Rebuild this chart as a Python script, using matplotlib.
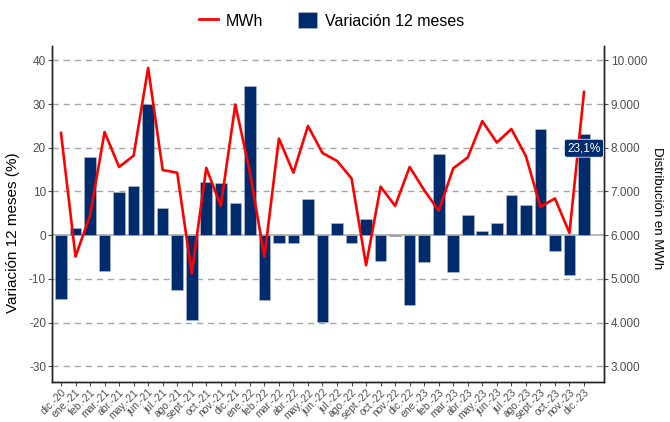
"""Variación 12 meses (barras) y distribución en MWh (línea), dic-20 a dic-23."""

import matplotlib

matplotlib.use("Agg")
import matplotlib.pyplot as plt
from matplotlib.lines import Line2D
from matplotlib.patches import Patch
from matplotlib.ticker import FuncFormatter

plt.rcParams["font.family"] = ["Liberation Sans", "DejaVu Sans"]
plt.rcParams["axes.unicode_minus"] = False

MONTHS = [
    "dic.-20",
    "ene.-21", "feb.-21", "mar.-21", "abr.-21", "may.-21", "jun.-21",
    "jul.-21", "ago.-21", "sept.-21", "oct.-21", "nov.-21", "dic.-21",
    "ene.-22", "feb.-22", "mar.-22", "abr.-22", "may.-22", "jun.-22",
    "jul.-22", "ago.-22", "sept.-22", "oct.-22", "nov.-22", "dic.-22",
    "ene.-23", "feb.-23", "mar.-23", "abr.-23", "may.-23", "jun.-23",
    "jul.-23", "ago.-23", "sept.-23", "oct.-23", "nov.-23", "dic.-23",
]

# variación 12 meses (%)
VARIACION = [
    -14.6,
    1.7, 17.9, -8.2, 9.8, 11.2, 30.0,
    6.1, -12.6, -19.5, 12.1, 11.9, 7.4,
    34.2, -14.8, -1.9, -1.9, 8.3, -19.9,
    2.7, -1.9, 3.7, -5.9, -0.2, -16.0,
    -6.1, 18.5, -8.5, 4.5, 1.0, 2.8,
    9.3, 6.9, 24.3, -3.7, -9.2, 23.1,
]

# distribución en MWh
MWH = [
    8340,
    5510, 6450, 8360, 7560, 7820, 9830,
    7490, 7430, 5120, 7540, 6670, 8990,
    7450, 5500, 8210, 7430, 8500, 7880,
    7700, 7300, 5310, 7110, 6670, 7560,
    7030, 6560, 7530, 7780, 8610, 8120,
    8430, 7810, 6650, 6840, 6050, 9280,
]

LAST_LABEL = "23,1%"

NAVY = "#002C6E"
RED = "#FF0000"
GRID = "#a6a6a6"
TICK_TXT = "#4d4d4d"

Y_LO, Y_HI = -33.6, 43.3


def thousands(v, _pos):
    return f"{v:,.0f}".replace(",", ".")


fig = plt.figure(figsize=(6.7, 4.22), dpi=100)
ax = fig.add_axes([0.078, 0.095, 0.824, 0.796])
ax2 = ax.twinx()

x = list(range(len(MONTHS)))

# grid + zero line
for yv in (40, 30, 20, 10, -10, -20, -30):
    ax.axhline(yv, color=GRID, lw=1.0, ls=(0, (4.5, 3.5)), zorder=0)
ax.axhline(0, color=GRID, lw=1.1, zorder=1)

ax.bar(x, VARIACION, width=0.8, color=NAVY, edgecolor="#b8c0cc", linewidth=0.4, zorder=2)

ax2.plot(x, MWH, color=RED, lw=1.9, zorder=3)

ax.set_xlim(-0.6, 37.4)
ax.set_ylim(Y_LO, Y_HI)
ax2.set_ylim(6000 + 100 * Y_LO, 6000 + 100 * Y_HI)

ax.set_yticks([40, 30, 20, 10, 0, -10, -20, -30])
ax2.set_yticks(range(3000, 10001, 1000))
ax2.yaxis.set_major_formatter(FuncFormatter(thousands))

ax.set_xticks(x)
ax.set_xticklabels(MONTHS, rotation=45, ha="right", rotation_mode="anchor")

for a in (ax, ax2):
    a.tick_params(colors=TICK_TXT, labelsize=8.5, length=3, width=0.8)
    a.tick_params(axis="y", pad=1.5)
    a.spines["top"].set_visible(False)
    for s in ("left", "right", "bottom"):
        a.spines[s].set_color("#222222")
        a.spines[s].set_linewidth(1.0)
ax.tick_params(axis="x", labelsize=7.5, pad=1)

ax.set_ylabel("Variación 12 meses (%)", fontsize=11)
ax.yaxis.set_label_coords(-0.058, 0.443)
ax2.set_ylabel("Distribución en MWh", fontsize=9.5, rotation=270, va="center")
ax2.yaxis.set_label_coords(1.096, 0.518)

ax2.annotate(
    LAST_LABEL,
    xy=(x[-1], 6000 + 100 * 19.9),
    ha="center",
    va="center",
    color="white",
    fontsize=8.5,
    zorder=6,
    bbox=dict(boxstyle="round,pad=0.25,rounding_size=0.2", fc=NAVY, ec="white", lw=0.5),
)

handles = [
    Line2D([], [], color=RED, lw=2),
    Patch(facecolor=NAVY, edgecolor="#b8c0cc", linewidth=0.4),
]
fig.legend(
    handles,
    ["MWh", "Variación 12 meses"],
    loc="center",
    bbox_to_anchor=(0.495, 0.952),
    ncol=2,
    frameon=False,
    fontsize=11.5,
    handlelength=1.2,
    handleheight=1.2,
    columnspacing=2.2,
    handletextpad=0.5,
)

fig.savefig("out.png", dpi=100)
